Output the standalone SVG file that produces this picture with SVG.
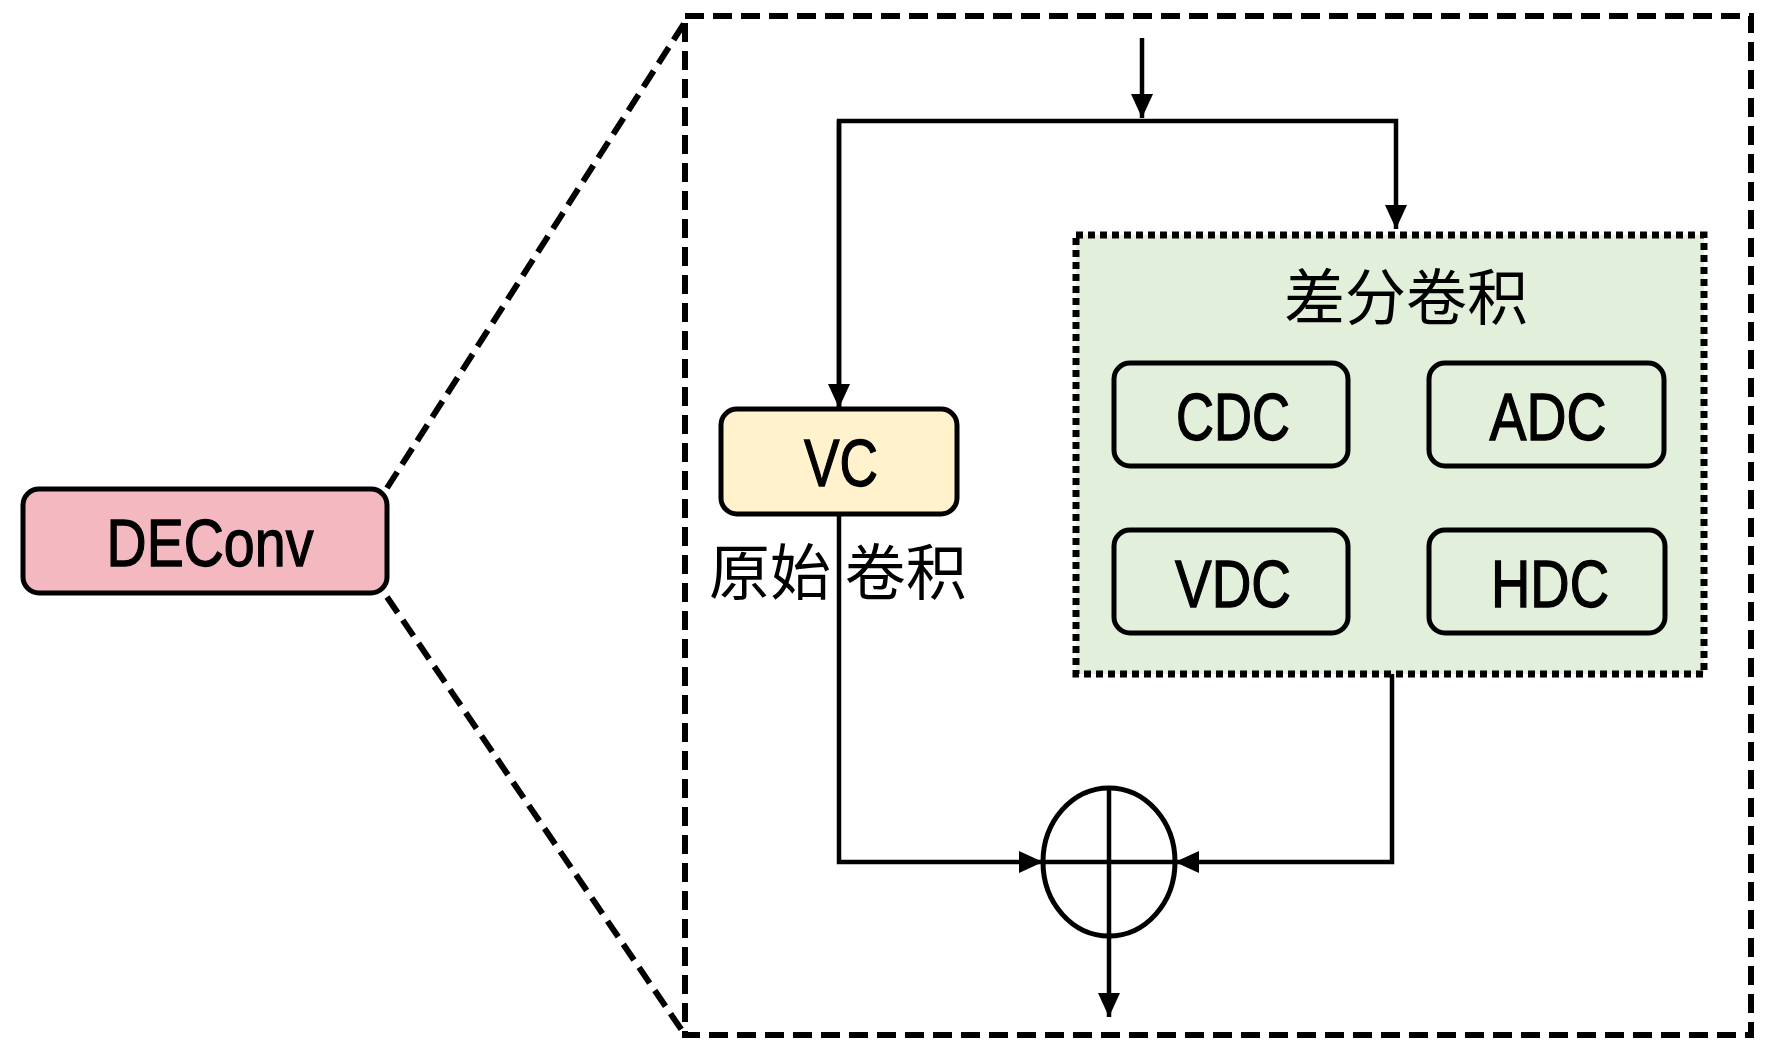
<svg xmlns="http://www.w3.org/2000/svg" width="1772" height="1055" viewBox="0 0 1772 1055">
<style>
.lbl{font-family:"Liberation Sans","DejaVu Sans",sans-serif;font-size:66px;fill:#000;stroke:#000;stroke-width:1.3;text-anchor:middle}
.cjk{font-family:"Noto Sans CJK SC","Noto Sans",sans-serif;font-size:61px;fill:#000}
.node{stroke:#000;stroke-width:5}
.conn{fill:none;stroke:#000;stroke-width:4.5}
.dash{fill:none;stroke:#000;stroke-width:6;stroke-dasharray:19 9}
</style>
<defs>
<marker id="arr" markerUnits="userSpaceOnUse" markerWidth="24" markerHeight="22" refX="24" refY="11" orient="auto">
<path d="M0,0 L24,11 L0,22 z" fill="#000"/>
</marker>
</defs>
<rect width="1772" height="1055" fill="#fff"/>
<g id="zoom-lines">
<line class="dash" x1="387" y1="488" x2="685" y2="22"/>
<line class="dash" x1="387" y1="597" x2="683" y2="1032"/>
</g>
<g id="outer-box">
<rect class="dash" x="685" y="16" width="1066" height="1019"/>
</g>
<g id="deconv">
<rect class="node" x="23" y="489" width="364" height="104" rx="16" fill="#F4B8C1"/>
<text class="lbl" x="210" y="566" textLength="207" lengthAdjust="spacingAndGlyphs">DEConv</text>
</g>
<g id="diff-group">
<rect x="1076" y="235" width="628" height="439" fill="#E2EFDA" stroke="#000" stroke-width="7" stroke-dasharray="7 5"/>
<text class="cjk" x="1406" y="320" text-anchor="middle">差分卷积</text>
</g>
<g id="vc">
<rect class="node" x="721" y="409" width="236" height="105" rx="16" fill="#FFF2CC"/>
<text class="lbl" x="841" y="486" textLength="74" lengthAdjust="spacingAndGlyphs">VC</text>
<text class="cjk" x="709" y="595">原始 卷积</text>
</g>
<g id="cdc">
<rect class="node" x="1114" y="363" width="234" height="103" rx="16" fill="#E2EFDA"/>
<text class="lbl" x="1233" y="440" textLength="114" lengthAdjust="spacingAndGlyphs">CDC</text>
</g>
<g id="adc">
<rect class="node" x="1429" y="363" width="235" height="103" rx="16" fill="#E2EFDA"/>
<text class="lbl" x="1548" y="440" textLength="117" lengthAdjust="spacingAndGlyphs">ADC</text>
</g>
<g id="vdc">
<rect class="node" x="1114" y="530" width="234" height="103" rx="16" fill="#E2EFDA"/>
<text class="lbl" x="1233" y="607" textLength="116" lengthAdjust="spacingAndGlyphs">VDC</text>
</g>
<g id="hdc">
<rect class="node" x="1429" y="530" width="236" height="103" rx="16" fill="#E2EFDA"/>
<text class="lbl" x="1550" y="607" textLength="118" lengthAdjust="spacingAndGlyphs">HDC</text>
</g>
<g id="sum">
<ellipse cx="1109" cy="862" rx="66" ry="74" fill="none" stroke="#000" stroke-width="5"/>
<line x1="1043" y1="862" x2="1175" y2="862" stroke="#000" stroke-width="4.5"/>
<line x1="1109" y1="788" x2="1109" y2="936" stroke="#000" stroke-width="4.5"/>
</g>
<g id="connectors">
<line class="conn" x1="1142" y1="38" x2="1142" y2="118" marker-end="url(#arr)"/>
<polyline class="conn" points="839,408 839,121 1396,121 1396,229" marker-end="url(#arr)"/>
<line class="conn" x1="839" y1="121" x2="839" y2="408" marker-end="url(#arr)"/>
<polyline class="conn" points="839,514 839,862 1043,862" marker-end="url(#arr)"/>
<polyline class="conn" points="1392,674 1392,862 1175,862" marker-end="url(#arr)"/>
<line class="conn" x1="1109" y1="936" x2="1109" y2="1017" marker-end="url(#arr)"/>
</g>
</svg>
